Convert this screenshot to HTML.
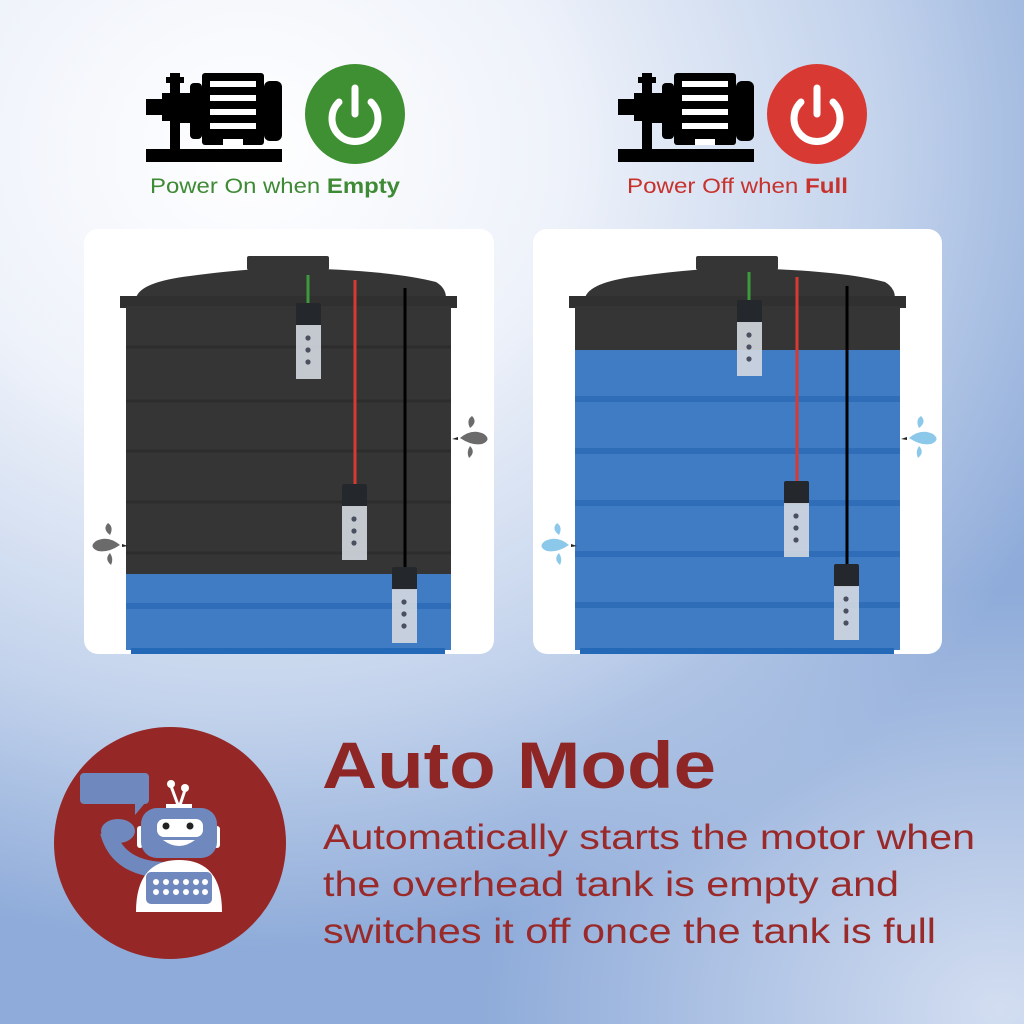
<!DOCTYPE html>
<html><head><meta charset="utf-8"><style>
html,body{margin:0;padding:0;width:1024px;height:1024px;overflow:hidden}
body{background:radial-gradient(ellipse 520px 420px at 1000px 1010px,rgba(214,224,242,0.95) 0%,rgba(214,224,242,0) 100%),radial-gradient(ellipse 900px 800px at 250px 150px,#ffffff 0%,#eef2fa 35%,#c3d3ec 70%,#8eabd9 100%);font-family:"Liberation Sans",sans-serif}
</style></head><body>
<svg width="1024" height="1024" viewBox="0 0 1024 1024" xmlns="http://www.w3.org/2000/svg" style="position:absolute;left:0;top:0">
<defs>
<g id="motor">
  <rect x="0" y="76" width="136" height="13" fill="#000"/>
  <rect x="0" y="26" width="18" height="16" fill="#000"/>
  <rect x="16" y="20" width="12" height="28" fill="#000"/>
  <rect x="24" y="0" width="10" height="76" fill="#000"/>
  <rect x="20" y="4" width="18" height="6" fill="#000"/>
  <rect x="34" y="20" width="10" height="30" fill="#000"/>
  <rect x="44" y="10" width="12" height="56" rx="4" fill="#000"/>
  <rect x="56" y="0" width="62" height="72" rx="3" fill="#000"/>
  <rect x="118" y="8" width="18" height="60" rx="6" fill="#000"/>
  <rect x="64" y="8" width="46" height="6" fill="#fff"/>
  <rect x="64" y="22" width="46" height="6" fill="#fff"/>
  <rect x="64" y="36" width="46" height="6" fill="#fff"/>
  <rect x="64" y="50" width="46" height="6" fill="#fff"/>
  <rect x="77" y="66" width="20" height="6" fill="#fff"/>
</g>
<g id="power">
  <path d="M-16,-16 A23,23 0 1 0 16,-16" fill="none" stroke="#fff" stroke-width="7" stroke-linecap="round"/>
  <line x1="0" y1="-30" x2="0" y2="-4" stroke="#fff" stroke-width="7" stroke-linecap="round"/>
</g>
<g id="sensor">
  <rect x="0" y="0" width="25" height="23" rx="2" fill="#24272b"/>
  <rect x="0" y="22" width="25" height="54" fill="#d4d8e0" opacity="0.9"/>
  <circle cx="12" cy="35" r="2.6" fill="#4a5060"/>
  <circle cx="12" cy="47" r="2.6" fill="#4a5060"/>
  <circle cx="12" cy="59" r="2.6" fill="#4a5060"/>
</g>
<g id="tankshell">
  <rect x="247" y="256" width="82" height="14" rx="2" fill="#353535"/>
  <path d="M136,298 Q140,282 190,276 Q250,268 290,268 Q390,270 436,282 Q446,288 446,298 Z" fill="#353535"/>
  <rect x="120" y="296" width="337" height="12" fill="#303030"/>
</g>
<g id="splashR">
  <path d="M8,0 Q20,-10 32,-4 Q40,2 30,6 Q20,8 8,0z"/>
  <path d="M18,-10 Q14,-18 20,-22 Q26,-16 18,-10z"/>
  <path d="M18,8 Q14,14 17,20 Q24,14 18,8z"/>
  <path d="M0,1 l6,-2 l0,3z" fill="#222"/>
</g>
</defs>

<use href="#motor" x="146" y="73"/>
<circle cx="355" cy="114" r="50" fill="#3f9033"/>
<use href="#power" x="355" y="118"/>
<text x="150" y="193" textLength="250" lengthAdjust="spacingAndGlyphs" font-size="21" fill="#3f8a35">Power On when <tspan font-weight="bold">Empty</tspan></text>

<use href="#motor" x="618" y="73"/>
<circle cx="817" cy="114" r="50" fill="#d83a33"/>
<use href="#power" x="817" y="118"/>
<text x="627" y="193" textLength="221" lengthAdjust="spacingAndGlyphs" font-size="21" fill="#c8322d">Power Off when <tspan font-weight="bold">Full</tspan></text>

<rect x="84" y="229" width="410" height="425" rx="14" fill="#fff"/>
<use href="#tankshell"/>
<rect x="126" y="306" width="325" height="268" fill="#353535"/>
<g stroke="#2d2d2d" stroke-width="3">
<line x1="126" y1="347" x2="451" y2="347"/><line x1="126" y1="401" x2="451" y2="401"/>
<line x1="126" y1="451" x2="451" y2="451"/><line x1="126" y1="502" x2="451" y2="502"/>
<line x1="126" y1="553" x2="451" y2="553"/></g>
<rect x="126" y="574" width="325" height="76" fill="#3f7cc4"/>
<rect x="126" y="603" width="325" height="6" fill="#2f6db8"/>
<rect x="131" y="648" width="314" height="6" fill="#2468b8"/>
<line x1="308" y1="275" x2="308" y2="304" stroke="#3c9a3c" stroke-width="3"/>
<line x1="355" y1="280" x2="355" y2="485" stroke="#d73a32" stroke-width="3"/>
<line x1="405" y1="288" x2="405" y2="568" stroke="#000" stroke-width="3"/>
<use href="#sensor" x="296" y="303"/>
<use href="#sensor" x="342" y="484"/>
<use href="#sensor" x="392" y="567"/>
<g fill="#6b6b6b">
<g transform="translate(452,438)"><use href="#splashR"/></g>
<g transform="translate(128,545) scale(-1,1)"><use href="#splashR"/></g>
</g>

<rect x="533" y="229" width="409" height="425" rx="14" fill="#fff"/>
<use href="#tankshell" x="449"/>
<rect x="575" y="306" width="325" height="44" fill="#353535"/>
<rect x="575" y="350" width="325" height="300" fill="#3f7cc4"/>
<g fill="#2f6db8">
<rect x="575" y="396" width="325" height="6"/><rect x="575" y="448" width="325" height="6"/>
<rect x="575" y="500" width="325" height="6"/><rect x="575" y="551" width="325" height="6"/>
<rect x="575" y="602" width="325" height="6"/></g>
<rect x="580" y="648" width="314" height="6" fill="#2468b8"/>
<line x1="749" y1="272" x2="749" y2="301" stroke="#3c9a3c" stroke-width="3"/>
<line x1="797" y1="277" x2="797" y2="482" stroke="#d73a32" stroke-width="3"/>
<line x1="847" y1="286" x2="847" y2="565" stroke="#000" stroke-width="3"/>
<use href="#sensor" x="737" y="300"/>
<use href="#sensor" x="784" y="481"/>
<use href="#sensor" x="834" y="564"/>
<g fill="#8cc8ea">
<g transform="translate(901,438)"><use href="#splashR"/></g>
<g transform="translate(577,545) scale(-1,1)"><use href="#splashR"/></g>
</g>

<circle cx="170" cy="843" r="116" fill="#952826"/>
<rect x="80" y="773" width="69" height="31" rx="4" fill="#6f88bd"/>
<path d="M135,803 l10,0 l-10,12z" fill="#6f88bd"/>
<path d="M108,832 q10,38 60,38" fill="none" stroke="#6f88bd" stroke-width="16"/>
<ellipse cx="118" cy="831" rx="17" ry="12" fill="#6f88bd"/>
<line x1="178" y1="805" x2="171" y2="786" stroke="#fff" stroke-width="3"/>
<line x1="180" y1="805" x2="185" y2="790" stroke="#fff" stroke-width="3"/>
<circle cx="171" cy="784" r="4" fill="#fff"/><circle cx="185" cy="788" r="4" fill="#fff"/>
<rect x="166" y="804" width="26" height="6" fill="#fff"/>
<rect x="137" y="826" width="6" height="22" rx="3" fill="#fff"/>
<rect x="214" y="826" width="6" height="22" rx="3" fill="#fff"/>
<rect x="141" y="808" width="76" height="50" rx="16" fill="#6f88bd"/>
<rect x="157" y="819" width="46" height="18" rx="7" fill="#fff"/>
<circle cx="166" cy="826" r="3.5" fill="#222"/><circle cx="190" cy="826" r="3.5" fill="#222"/>
<path d="M163,840 q16,12 32,0 z" fill="#fff"/>
<path d="M136,912 q0,-52 43,-52 q43,0 43,52z" fill="#fff"/>
<rect x="146" y="872" width="66" height="32" rx="5" fill="#6f88bd"/>
<g fill="#fff">
<circle cx="156" cy="882" r="3"/><circle cx="166" cy="882" r="3"/><circle cx="176" cy="882" r="3"/><circle cx="186" cy="882" r="3"/><circle cx="196" cy="882" r="3"/><circle cx="205" cy="882" r="3"/>
<circle cx="156" cy="892" r="3"/><circle cx="166" cy="892" r="3"/><circle cx="176" cy="892" r="3"/><circle cx="186" cy="892" r="3"/><circle cx="196" cy="892" r="3"/><circle cx="205" cy="892" r="3"/></g>

<text x="322" y="788" textLength="394" lengthAdjust="spacingAndGlyphs" font-size="66" font-weight="bold" fill="#8f2626">Auto Mode</text>
<g font-size="35" fill="#9a2a2a">
<text x="323" y="849" textLength="652" lengthAdjust="spacingAndGlyphs">Automatically starts the motor when</text>
<text x="323" y="896" textLength="576" lengthAdjust="spacingAndGlyphs">the overhead tank is empty and</text>
<text x="323" y="943" textLength="613" lengthAdjust="spacingAndGlyphs">switches it off once the tank is full</text>
</g>
</svg>
</body></html>
